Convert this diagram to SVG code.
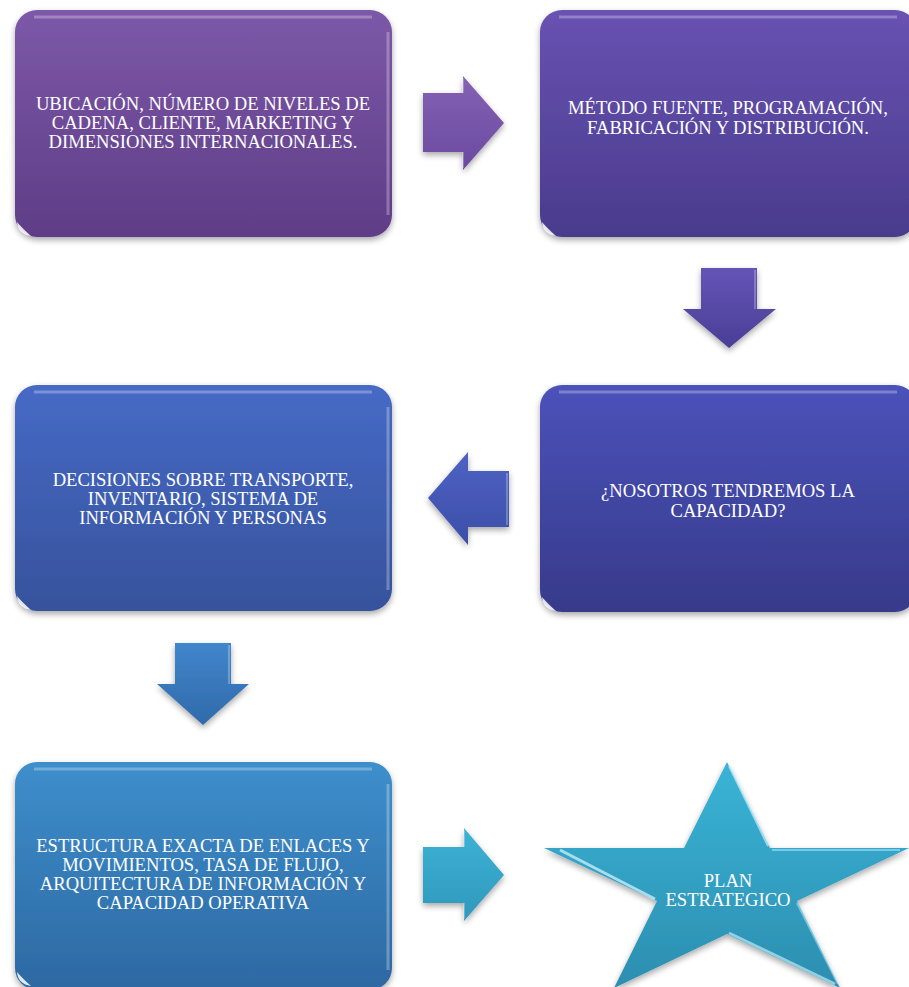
<svg xmlns="http://www.w3.org/2000/svg" width="909" height="987" viewBox="0 0 909 987">
<style>
.t{font-family:"Liberation Serif","Times New Roman",serif;font-size:18.6px;fill:#ffffff;text-anchor:middle}
.hl{fill:none;stroke:#ffffff;stroke-opacity:0.28;stroke-width:3}
.gl{fill:#ffffff;fill-opacity:0.85}
.bev{fill:none;stroke:#ffffff;stroke-opacity:0.35;stroke-width:1.5}
</style>
<defs>
<filter id="sh" x="-10%" y="-10%" width="120%" height="125%">
<feGaussianBlur in="SourceAlpha" stdDeviation="3"/>
<feOffset dx="0" dy="3" result="b"/>
<feComponentTransfer><feFuncA type="linear" slope="0.35"/></feComponentTransfer>
<feMerge><feMergeNode/><feMergeNode in="SourceGraphic"/></feMerge>
</filter>
<linearGradient id="g1" x1="0" y1="0" x2="0" y2="1"><stop offset="0" stop-color="#7c58a8"/><stop offset="1" stop-color="#5f3d86"/></linearGradient>
<linearGradient id="g2" x1="0" y1="0" x2="0" y2="1"><stop offset="0" stop-color="#6852b2"/><stop offset="1" stop-color="#4a3b8c"/></linearGradient>
<linearGradient id="g3" x1="0" y1="0" x2="0" y2="1"><stop offset="0" stop-color="#4b52ba"/><stop offset="1" stop-color="#373a8a"/></linearGradient>
<linearGradient id="g4" x1="0" y1="0" x2="0" y2="1"><stop offset="0" stop-color="#466ac6"/><stop offset="1" stop-color="#37529c"/></linearGradient>
<linearGradient id="g5" x1="0" y1="0" x2="0" y2="1"><stop offset="0" stop-color="#3d8fcc"/><stop offset="1" stop-color="#2d68a2"/></linearGradient>
<linearGradient id="g6" x1="0" y1="0" x2="0" y2="1"><stop offset="0" stop-color="#3ab4d6"/><stop offset="1" stop-color="#2c8eb0"/></linearGradient>
<linearGradient id="a1" x1="0" y1="0" x2="0" y2="1"><stop offset="0" stop-color="#8462b4"/><stop offset="1" stop-color="#6a4aa0"/></linearGradient>
<linearGradient id="a2" x1="0" y1="0" x2="0" y2="1"><stop offset="0" stop-color="#6454b6"/><stop offset="1" stop-color="#4a3e96"/></linearGradient>
<linearGradient id="a3" x1="0" y1="0" x2="0" y2="1"><stop offset="0" stop-color="#4e62c4"/><stop offset="1" stop-color="#3c4ea8"/></linearGradient>
<linearGradient id="a4" x1="0" y1="0" x2="0" y2="1"><stop offset="0" stop-color="#4286cc"/><stop offset="1" stop-color="#2f6aaa"/></linearGradient>
<linearGradient id="a5" x1="0" y1="0" x2="0" y2="1"><stop offset="0" stop-color="#3db2d6"/><stop offset="1" stop-color="#2f98bc"/></linearGradient>
</defs>
<rect width="909" height="987" fill="#ffffff"/>

<g id="connectors">
<path d="M423,93 H463 V76 L504,123 L463,170 V152 H423 Z" fill="url(#a1)" filter="url(#sh)"/>
<path d="M463,78 V93 M463,152 V168" class="bev"/>
<path d="M701,268 H757 V309 H776 L729,348 L683,309 H701 Z" fill="url(#a2)" filter="url(#sh)"/>
<path d="M755,270 V309" class="bev"/>
<path d="M509,471 V527 H468 V545 L428,498 L468,452 V471 Z" fill="url(#a3)" filter="url(#sh)"/>
<path d="M507,473 V525" class="bev"/>
<path d="M175,643 H231 V684 H249 L203,725 L157,684 H175 Z" fill="url(#a4)" filter="url(#sh)"/>
<path d="M229,645 V684" class="bev"/>
<path d="M423,847 H464 V828 L504,875 L464,921 V903 H423 Z" fill="url(#a5)" filter="url(#sh)"/>
<path d="M464,830 V847 M464,903 V919" class="bev"/>
</g>

<g id="n1">
<rect x="15" y="10" width="377" height="227" rx="22" fill="url(#g1)" filter="url(#sh)"/>
<path d="M34,17 H372" class="hl"/>
<path d="M388,32 V215" class="hl" stroke-width="2"/>
<path d="M17,222 Q18,234 31,236 Q22,228 17,222 Z" class="gl"/>
<text class="t" x="203" y="110">UBICACIÓN, NÚMERO DE NIVELES DE</text>
<text class="t" x="203" y="129">CADENA, CLIENTE, MARKETING Y</text>
<text class="t" x="203" y="148">DIMENSIONES INTERNACIONALES.</text>
</g>

<g id="n2">
<rect x="540" y="10" width="377" height="227" rx="22" fill="url(#g2)" filter="url(#sh)"/>
<path d="M559,17 H897" class="hl"/>
<path d="M542,222 Q543,234 556,236 Q547,228 542,222 Z" class="gl"/>
<text class="t" x="728" y="114">MÉTODO FUENTE, PROGRAMACIÓN,</text>
<text class="t" x="728" y="133.5">FABRICACIÓN Y DISTRIBUCIÓN.</text>
</g>

<g id="n3">
<rect x="540" y="385" width="377" height="227" rx="22" fill="url(#g3)" filter="url(#sh)"/>
<path d="M559,392 H897" class="hl"/>
<path d="M542,597 Q543,609 556,611 Q547,603 542,597 Z" class="gl"/>
<text class="t" x="728" y="497">¿NOSOTROS TENDREMOS LA</text>
<text class="t" x="728" y="516.5">CAPACIDAD?</text>
</g>

<g id="n4">
<rect x="15" y="385" width="377" height="226" rx="22" fill="url(#g4)" filter="url(#sh)"/>
<path d="M34,392 H372" class="hl"/>
<path d="M388,407 V590" class="hl" stroke-width="2"/>
<path d="M17,596 Q18,608 31,610 Q22,602 17,596 Z" class="gl"/>
<text class="t" x="203" y="486">DECISIONES SOBRE TRANSPORTE,</text>
<text class="t" x="203" y="505">INVENTARIO, SISTEMA DE</text>
<text class="t" x="203" y="524">INFORMACIÓN Y PERSONAS</text>
</g>

<g id="n5">
<rect x="15" y="762" width="377" height="228" rx="22" fill="url(#g5)" filter="url(#sh)"/>
<path d="M34,769 H372" class="hl"/>
<path d="M388,784 V970" class="hl" stroke-width="2"/>
<path d="M17,972 Q18,984 31,986 Q22,978 17,972 Z" class="gl"/>
<text class="t" x="203" y="852">ESTRUCTURA EXACTA DE ENLACES Y</text>
<text class="t" x="203" y="871">MOVIMIENTOS, TASA DE FLUJO,</text>
<text class="t" x="203" y="890">ARQUITECTURA DE INFORMACIÓN Y</text>
<text class="t" x="203" y="909">CAPACIDAD OPERATIVA</text>
</g>

<g id="n6">
<path d="M727,762 L770,848 L909,848 L797,901 L840,988 L727,934 L614,988 L657,901 L544,848 L684,848 Z" fill="url(#g6)" filter="url(#sh)"/>
<path d="M729,766 L768,846" stroke="#bfefff" stroke-opacity="0.7" stroke-width="2" fill="none"/>
<path d="M560,850 L655,899" stroke="#d8f6ff" stroke-opacity="0.7" stroke-width="3" fill="none"/>
<path d="M729,933 L835,984" stroke="#d8f6ff" stroke-opacity="0.6" stroke-width="3" fill="none"/>
<path d="M797,903 L838,984" stroke="#bfefff" stroke-opacity="0.5" stroke-width="2" fill="none"/>
<path d="M772,850 L900,850" stroke="#bfefff" stroke-opacity="0.5" stroke-width="2" fill="none"/>
<text class="t" x="728" y="887">PLAN</text>
<text class="t" x="728" y="906">ESTRATEGICO</text>
</g>
</svg>
